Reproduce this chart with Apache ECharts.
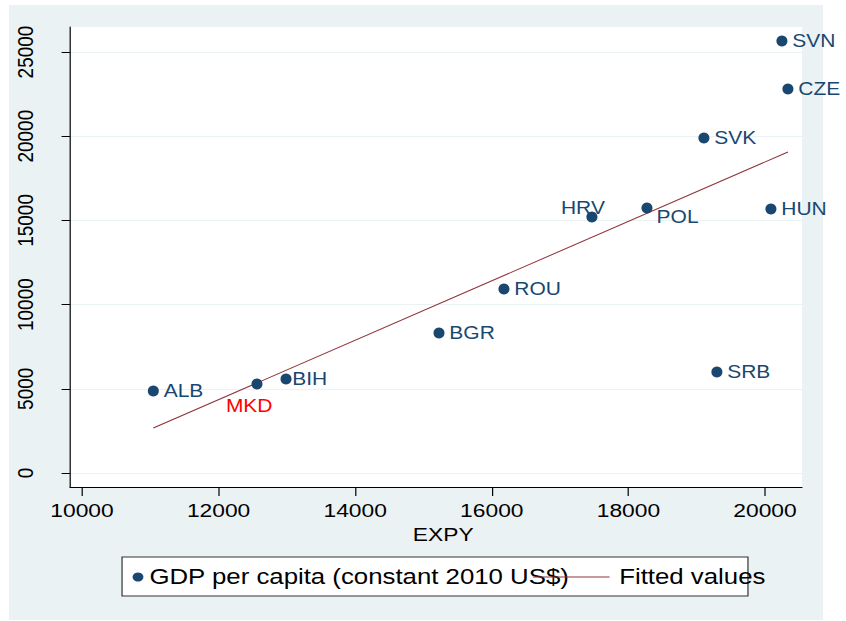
<!DOCTYPE html>
<html>
<head>
<meta charset="utf-8">
<script src="https://cdn.jsdelivr.net/npm/echarts@6/dist/echarts.min.js"></script>
<style>
  html, body { margin: 0; padding: 0; background: #fff; }
  #bg { position: absolute; left: 9px; top: 5px; width: 814px; height: 615px; background: #eaf2f3; }
  /* chart is laid out 705px wide and stretched to 846px, the reference text is wide */
  #main { position: absolute; left: 0; top: 0; width: 705px; height: 621px; transform: scaleX(1.2); transform-origin: 0 0; }
</style>
</head>
<body>
<div id="bg"></div>
<div id="main"></div>
<script>
const countries = ['ALB', 'MKD', 'BIH', 'BGR', 'ROU', 'HRV', 'POL', 'HUN', 'SVK', 'SRB', 'SVN', 'CZE'];
const expy = [11044, 12562, 12987, 15227, 16178, 17466, 18272, 20087, 19106, 19296, 20248, 20336];
const gdp = [4869, 5285, 5582, 8313, 10926, 15201, 15736, 15676, 19892, 5997, 25652, 22802];
const fitX = [11044, 20336];
const fitY = [2672, 19062];
const xTicks = [10000, 12000, 14000, 16000, 18000, 20000];
const yTicks = [0, 5000, 10000, 15000, 20000, 25000];

const NAVY = '#1a476f';
const FONT = "'Liberation Sans', Arial, sans-serif";
const SCATTER_NAME = 'GDP per capita (constant 2010 US$)';
const FIT_NAME = 'Fitted values';
const SYM = [9.2, 11];

// labels that are not placed to the right of their point: [dx, dy] of label centre from the point
const labelShift = {
  HRV: [-7.5, -9],
  POL: [25.5, 9],
  MKD: [-6.5, 22],
};

const scatterData = countries.map((c, i) => {
  const item = { name: c, value: [expy[i], gdp[i]] };
  const s = labelShift[c];
  if (s) {
    item.label = {
      position: [SYM[0] / 2 + s[0], SYM[1] / 2 + s[1]],
      align: 'center',
      verticalAlign: 'middle',
    };
    if (c === 'MKD') item.label.color = '#ff0000';
  } else if (c === 'BIH') {
    item.label = { distance: 0.5 };
  }
  return item;
});

const chart = echarts.init(document.getElementById('main'), null, { renderer: 'svg' });

chart.setOption({
  backgroundColor: 'transparent',
  animation: false,
  textStyle: { fontFamily: FONT },
  grid: {
    left: 58.33, right: 36.67, top: 27, bottom: 134,
    show: true, backgroundColor: '#ffffff', borderWidth: 0,
  },
  xAxis: {
    type: 'value',
    min: 9824,
    max: 20542,
    name: 'EXPY',
    nameLocation: 'middle',
    nameGap: 37,
    nameTextStyle: { color: '#000', fontSize: 19, fontFamily: FONT, padding: [0, 0, 0, 12] },
    axisLine: { onZero: false, lineStyle: { color: '#000', width: 1 } },
    axisTick: { show: true, length: 9, lineStyle: { color: '#000' }, customValues: xTicks },
    axisLabel: { color: '#000', fontSize: 19, fontFamily: FONT, margin: 14, customValues: xTicks, formatter: (v) => String(v) },
    splitLine: { show: false },
  },
  yAxis: {
    type: 'value',
    min: -831,
    max: 26485,
    axisLine: { show: true, onZero: false, lineStyle: { color: '#000', width: 1 } },
    axisTick: { show: true, length: 7, lineStyle: { color: '#000' }, customValues: yTicks },
    axisLabel: { color: '#000', fontSize: 19, fontFamily: FONT, rotate: 90, margin: 28.5, customValues: yTicks, formatter: (v) => String(v) },
    splitLine: { show: true, lineStyle: { color: '#eaf2f3', width: 1 } },
  },
  legend: [
    {
      data: [SCATTER_NAME],
      left: 110.5,
      top: 566,
      padding: 0,
      icon: 'circle',
      itemWidth: 9,
      itemHeight: 11,
      selectedMode: false,
      textStyle: { color: '#000', fontSize: 21.5, fontFamily: FONT },
    },
    {
      data: [FIT_NAME],
      left: 444,
      top: 566,
      padding: 0,
      icon: 'rect',
      itemWidth: 64,
      itemHeight: 1,
      selectedMode: false,
      textStyle: { color: '#000', fontSize: 21.5, fontFamily: FONT, padding: [0, 0, 0, 3] },
    },
  ],
  graphic: [
    {
      type: 'rect',
      shape: { x: 101.7, y: 557, width: 521.6, height: 39 },
      style: { fill: '#ffffff', stroke: '#333333', lineWidth: 1 },
      silent: true,
    },
  ],
  series: [
    {
      name: FIT_NAME,
      type: 'line',
      data: fitX.map((x, i) => [x, fitY[i]]),
      symbol: 'none',
      lineStyle: { color: '#90353b', width: 1 },
      itemStyle: { color: '#90353b' },
      z: 2,
    },
    {
      name: SCATTER_NAME,
      type: 'scatter',
      data: scatterData,
      symbol: 'circle',
      symbolSize: SYM,
      itemStyle: { color: NAVY, opacity: 1 },
      label: {
        show: true,
        position: 'right',
        distance: 4,
        formatter: (p) => p.name,
        color: NAVY,
        fontSize: 17.5,
        fontFamily: FONT,
      },
      labelLayout: { hideOverlap: false },
      z: 3,
    },
  ],
});
</script>
</body>
</html>
